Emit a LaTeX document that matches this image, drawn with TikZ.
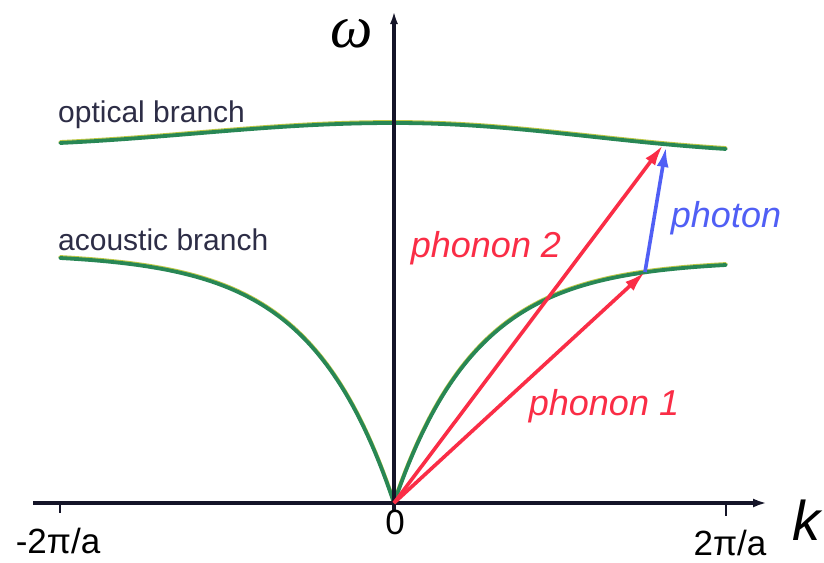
\documentclass[tikz,border=0pt]{standalone}
\usepackage{fontspec}
\setmainfont{Liberation Sans}
\newfontfamily\omegafont{Liberation Serif}
\usetikzlibrary{arrows.meta}
\definecolor{redc}{RGB}{250,45,70}
\definecolor{bluec}{RGB}{80,95,245}
\definecolor{greenc}{RGB}{40,135,85}
\definecolor{yellowc}{RGB}{190,200,70}
\definecolor{textc}{RGB}{45,45,70}
\definecolor{axisc}{RGB}{20,20,40}
\begin{document}
\begin{tikzpicture}[x=1pt,y=-1pt,
  axisline/.style={draw=axisc,line width=3.3pt},
  branchline/.style={draw=greenc,line width=3.8pt,line cap=round},
  branchedge/.style={draw=yellowc,line width=3.8pt,line cap=round,yshift=1pt},
  phononarrow/.style={draw=redc,line width=3.6pt,-{Latex[length=21pt,width=12pt]}},
  photonarrow/.style={draw=bluec,line width=3.6pt,-{Latex[length=20pt,width=12pt]}},
  branchlabel/.style={inner sep=0pt,anchor=base west,text=textc,font=\fontsize{30}{36}\selectfont},
  ticklabel/.style={inner sep=0pt,anchor=base,text=black,font=\fontsize{35}{40}\selectfont},
  arrowlabel/.style={inner sep=0pt,anchor=base,font=\fontsize{36}{42}\selectfont\itshape}
]
\useasboundingbox (0,0) rectangle (824,562);
\fill[white] (0,0) rectangle (824,562);

% coordinates
\coordinate (O) at (394,503);
\coordinate (xl) at (33,503);
\coordinate (xr) at (767,503);
\coordinate (yb) at (394,512);
\coordinate (yt) at (394,11);
\coordinate (tl) at (60,503);
\coordinate (tlb) at (60,513);
\coordinate (tr) at (726,504);
\coordinate (trb) at (726,516);
\coordinate (p1) at (645,272);
\coordinate (p2) at (663,145);
\coordinate (t1) at (666,147);

% branches (yellow fringe under green)
\foreach \st in {branchedge,branchline}{
  \draw[\st] plot[domain=0:1,samples=90] ({394-334*\x},{503-245*(1-exp(-4*\x))/(1-exp(-4))});
  \draw[\st] plot[domain=0:1,samples=90] ({394+332*\x},{503-238*(1-exp(-4*\x))/(1-exp(-4))});
  \draw[\st] plot[domain=0:1,samples=60] ({394-334*\x},{123+20*(1-cos(90*\x)+sin(90*\x)^2)/2});
  \draw[\st] plot[domain=0:1,samples=60] ({394+332*\x},{123+26*(1-cos(90*\x)+sin(90*\x)^2)/2});
}

% axes
\draw[axisline,-{Latex[length=14pt,width=9pt]}] (xl) -- (xr);
\draw[axisline,-{Latex[length=13pt,width=8pt]}] (yb) -- (yt);
\draw[axisline,line width=2.8pt] (tl) -- (tlb);
\draw[axisline,line width=2.8pt] (tr) -- (trb);

% arrows
\draw[phononarrow] (O) -- (p1);
\draw[phononarrow] (O) -- (p2);
\draw[photonarrow] (p1) -- (t1);

% labels
\node[branchlabel] (lopt) at (58,122) {optical branch};
\node[branchlabel] (lac) at (58,250) {acoustic branch};
\node[arrowlabel,text=redc] (lph2) at (486,257) {phonon 2};
\node[arrowlabel,text=redc] (lph1) at (604,415) {phonon 1};
\node[arrowlabel,text=bluec] (lpht) at (726,227) {photon};
\node[ticklabel] (lm) at (58,553) {-2π/a};
\node[ticklabel] (l0) at (395,534) {0};
\node[ticklabel] (lp) at (730,555) {2π/a};
\node[inner sep=0pt,anchor=base,text=black,font=\fontsize{56}{60}\selectfont\itshape] (lk) at (806,540) {k};
\node[inner sep=0pt,anchor=base,text=black,font=\fontsize{60}{64}\selectfont\omegafont\itshape] (lw) at (352,47) {ω};
\end{tikzpicture}
\end{document}
